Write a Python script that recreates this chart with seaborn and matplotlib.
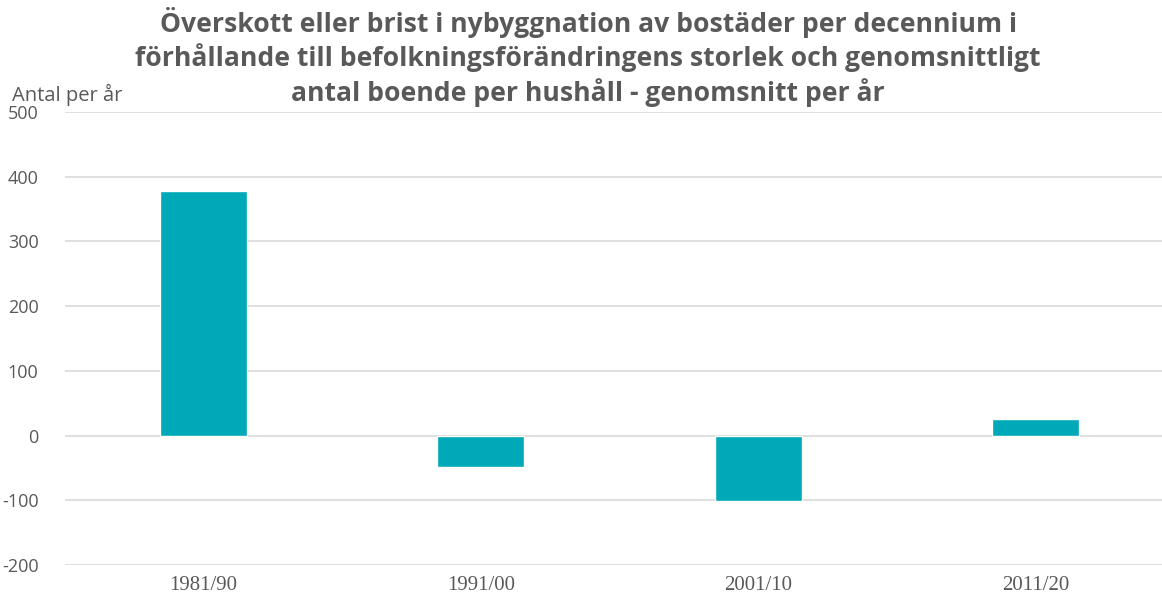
import matplotlib
matplotlib.use("Agg")
import matplotlib.pyplot as plt
import matplotlib.ticker as mticker
import seaborn as sns
import pandas as pd

categories = ["1981/90", "1991/00", "2001/10", "2011/20"]
values = [378, -49, -101, 25]
yticks = [-200, -100, 0, 100, 200, 300, 400, 500]

sns.set_theme(style="white")
plt.rcParams['font.family'] = ['Open Sans', 'DejaVu Sans']

df = pd.DataFrame({"period": categories, "value": values})

fig = plt.figure(figsize=(11.62, 5.95), dpi=100)
ax = fig.add_axes([65/1162, 1 - 565/595, (1174 - 65)/1162, (565 - 112)/595])

sns.barplot(data=df, x="period", y="value", color="#00A9B7", saturation=1,
            width=0.314, ax=ax, zorder=3)

ax.set_ylim(-200, 500)
ax.set_xlim(-0.5, 3.5)
ax.set_yticks(yticks)
ax.yaxis.set_major_formatter(mticker.FuncFormatter(lambda v, p: f"{int(v)}"))
ax.yaxis.grid(True, color="#D9D9D9", linewidth=1.2, zorder=0)
ax.xaxis.grid(False)
for s in ax.spines.values():
    s.set_visible(False)
ax.set_xlabel("")
ax.set_ylabel("")
ax.tick_params(axis="both", length=0)
ax.tick_params(axis="y", pad=19, labelsize=13, labelcolor="#595959")
ax.tick_params(axis="x", pad=8, labelsize=15, labelcolor="#595959")
for lab in ax.get_xticklabels():
    lab.set_family(["Liberation Serif", "DejaVu Serif"])

fig.text(12/1162, 1 - 95/595, "Antal per år", fontsize=14.5, color="#595959",
         ha="left", va="center")

title = ("Överskott eller brist i nybyggnation av bostäder per decennium i\n"
         "förhållande till befolkningsförändringens storlek och genomsnittligt\n"
         "antal boende per hushåll - genomsnitt per år")
fig.text(588/1162, 1 - 57/595, title, fontsize=19.1, fontweight="bold",
         color="#595959", ha="center", va="center", linespacing=1.24)

fig.savefig("out.png", dpi=100)
